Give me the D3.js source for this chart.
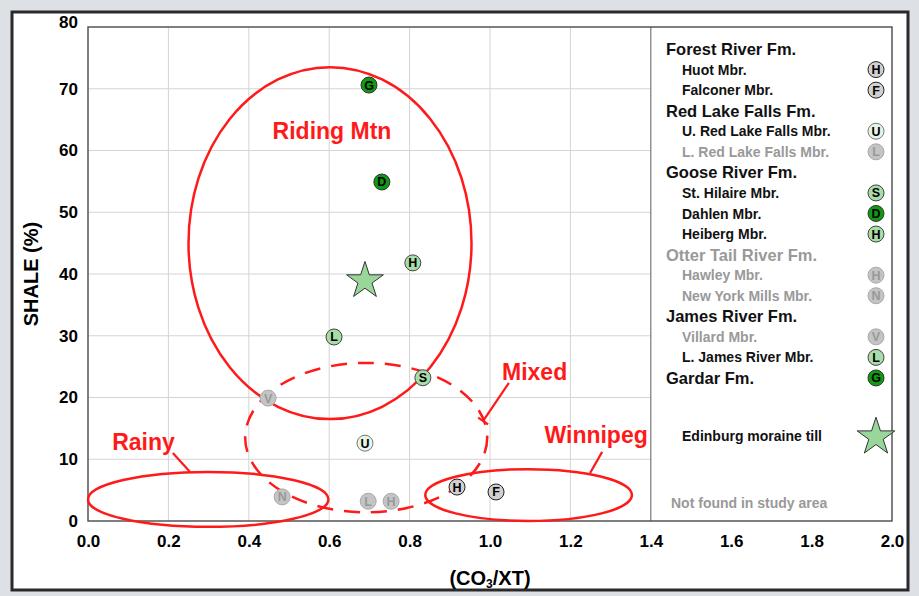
<!DOCTYPE html>
<html>
<head>
<meta charset="utf-8">
<script src="https://cdn.jsdelivr.net/npm/d3@7"></script>
<style>
  body { margin: 0; background: #dde1e6; }
  svg { display: block; font-family: "Liberation Sans", Arial, sans-serif; }
</style>
</head>
<body>
<svg id="chart" width="919" height="596"></svg>
<script>
// ---- data ----
var xTicks = [0, 0.2, 0.4, 0.6, 0.8, 1.0, 1.2, 1.4, 1.6, 1.8, 2.0];
var yTicks = [0, 10, 20, 30, 40, 50, 60, 70, 80];

// samples: member code, member name, CO3/XT, shale %
var sampleCodes = ['H', 'F', 'U', 'L', 'S', 'D', 'H', 'H', 'N', 'V', 'L', 'G'];
var sampleMembers = ['Huot', 'Falconer', 'U. Red Lake Falls', 'L. Red Lake Falls', 'St. Hilaire', 'Dahlen',
  'Heiberg', 'Hawley', 'New York Mills', 'Villard', 'L. James River', 'Gardar'];
var sampleX = [0.918, 1.015, 0.689, 0.697, 0.833, 0.731, 0.808, 0.754, 0.483, 0.448, 0.612, 0.699];
var sampleY = [5.5, 4.7, 12.6, 3.2, 23.2, 54.9, 41.8, 3.2, 3.9, 19.9, 29.8, 70.6];

// Edinburg moraine till
var tillX = [0.689];
var tillY = [38.9];

// provenance zones (ellipses in data units)
var zoneNames = ['Riding Mtn', 'Mixed', 'Rainy', 'Winnipeg'];
var zoneCx = [0.602, 0.692, 0.299, 1.096];
var zoneCy = [45.0, 13.5, 3.5, 4.2];
var zoneRx = [0.352, 0.301, 0.299, 0.257];
var zoneRy = [28.5, 12.1, 4.45, 4.2];
var zoneDashed = [false, true, false, false];

// zone label anchors and leader lines (data units)
var labelX = [0.607, 1.111, 0.138, 1.264];
var labelY = [63.2, 24.1, 12.8, 13.9];
var leaderFrom = [null, [1.047, 22.35], [0.211, 11.0], [1.279, 11.2]];
var leaderTo = [null, [0.983, 16.2], [0.254, 7.94], [1.249, 7.77]];

// legend rows
var legendNames = ['Forest River Fm.', 'Huot Mbr.', 'Falconer Mbr.', 'Red Lake Falls Fm.', 'U. Red Lake Falls Mbr.',
  'L. Red Lake Falls Mbr.', 'Goose River Fm.', 'St. Hilaire Mbr.', 'Dahlen Mbr.', 'Heiberg Mbr.',
  'Otter Tail River Fm.', 'Hawley Mbr.', 'New York Mills Mbr.', 'James River Fm.', 'Villard Mbr.',
  'L. James River Mbr.', 'Gardar Fm.'];
var legendCodes = ['', 'H', 'F', '', 'U', 'L', '', 'S', 'D', 'H', '', 'H', 'N', '', 'V', 'L', 'G'];
var legendStyleKeys = ['', 'Huot', 'Falconer', '', 'U. Red Lake Falls', 'L. Red Lake Falls', '', 'St. Hilaire',
  'Dahlen', 'Heiberg', '', 'Hawley', 'New York Mills', '', 'Villard', 'L. James River', 'Gardar'];
var legendAbsent = [false, false, false, false, false, true, false, false, false, false, true, true, true,
  false, true, false, false];

// ---- styles ----
var styles = {
  'Huot': { fill: '#d0d0d0', stroke: '#222', text: '#000' },
  'Falconer': { fill: '#d0d0d0', stroke: '#222', text: '#000' },
  'U. Red Lake Falls': { fill: '#e6f6e6', stroke: '#777', text: '#000' },
  'L. Red Lake Falls': { fill: '#c4c4c4', stroke: '#aaa', text: '#999' },
  'St. Hilaire': { fill: '#a8dca8', stroke: '#444', text: '#000' },
  'Dahlen': { fill: '#119911', stroke: '#333', text: '#000' },
  'Heiberg': { fill: '#a8dca8', stroke: '#444', text: '#000' },
  'Hawley': { fill: '#c4c4c4', stroke: '#aaa', text: '#999' },
  'New York Mills': { fill: '#c4c4c4', stroke: '#aaa', text: '#999' },
  'Villard': { fill: '#c4c4c4', stroke: '#aaa', text: '#999' },
  'L. James River': { fill: '#a8dca8', stroke: '#444', text: '#000' },
  'Gardar': { fill: '#119911', stroke: '#333', text: '#000' }
};
var RED = '#ff1a1a';

var svg = d3.select('#chart');

// outer frame
svg.append('rect').attr('x', 12).attr('y', 12).attr('width', 896).attr('height', 578)
  .attr('fill', '#fff').attr('stroke', '#2a2a2a').attr('stroke-width', 3);

var x = d3.scaleLinear().domain([0, 2]).range([88, 892]);
var y = d3.scaleLinear().domain([0, 80]).range([521, 27]);

// grid (data part only, up to 1.4)
var g = svg.append('g');
g.selectAll('.vgrid').data(xTicks.filter(function(d) { return d > 0 && d < 1.4; })).enter().append('line')
  .attr('x1', function(d) { return x(d); }).attr('x2', function(d) { return x(d); })
  .attr('y1', y(80)).attr('y2', y(0)).attr('stroke', '#d4d4d4').attr('stroke-width', 1);
g.selectAll('.hgrid').data(yTicks.filter(function(d) { return d > 0 && d < 80; })).enter().append('line')
  .attr('x1', x(0)).attr('x2', x(1.4))
  .attr('y1', function(d) { return y(d); }).attr('y2', function(d) { return y(d); })
  .attr('stroke', '#d4d4d4').attr('stroke-width', 1);

// legend divider + plot border
g.append('line').attr('x1', x(1.4)).attr('x2', x(1.4)).attr('y1', y(80)).attr('y2', y(0))
  .attr('stroke', '#777').attr('stroke-width', 1.2);
g.append('rect').attr('x', x(0)).attr('y', y(80)).attr('width', x(2) - x(0)).attr('height', y(0) - y(80))
  .attr('fill', 'none').attr('stroke', '#555').attr('stroke-width', 1.5);

// axes
var xAxis = svg.append('g').attr('transform', 'translate(0,' + y(0) + ')')
  .call(d3.axisBottom(x).tickValues(xTicks).tickSize(0).tickPadding(14).tickFormat(d3.format('.1f')));
xAxis.select('.domain').remove();
xAxis.selectAll('text').attr('font-size', '17px').attr('font-weight', 'bold').attr('fill', '#000')
  .attr('font-family', '"Liberation Sans", Arial, sans-serif');

var yAxis = svg.append('g').attr('transform', 'translate(' + (x(0) - 10) + ',0)')
  .call(d3.axisLeft(y).tickValues(yTicks).tickSize(0).tickPadding(0));
yAxis.select('.domain').remove();
yAxis.selectAll('text').attr('font-size', '17px').attr('font-weight', 'bold').attr('fill', '#000')
  .attr('font-family', '"Liberation Sans", Arial, sans-serif')
  .attr('dy', function(d) { return d === 80 ? '0.05em' : '0.32em'; });

svg.append('text').attr('transform', 'translate(38,' + (y(40)) + ') rotate(-90)')
  .attr('text-anchor', 'middle').attr('font-size', '20px').attr('font-weight', 'bold').text('SHALE (%)');

var xt = svg.append('text').attr('x', (x(0) + x(2)) / 2).attr('y', 585)
  .attr('text-anchor', 'middle').attr('font-size', '20px').attr('font-weight', 'bold');
xt.append('tspan').text('(CO');
xt.append('tspan').attr('font-size', '12px').attr('dy', 3).text('3');
xt.append('tspan').attr('dy', -3).text('/XT)');

// zones
var ell = svg.append('g');
zoneNames.forEach(function(name, i) {
  ell.append('ellipse')
    .attr('cx', x(zoneCx[i])).attr('cy', y(zoneCy[i]))
    .attr('rx', x(zoneRx[i]) - x(0)).attr('ry', y(0) - y(zoneRy[i]))
    .attr('fill', 'none').attr('stroke', RED).attr('stroke-width', 2.5)
    .attr('stroke-dasharray', zoneDashed[i] ? '16,11' : null);
});

// zone labels and leader lines
zoneNames.forEach(function(name, i) {
  svg.append('text').attr('x', x(labelX[i])).attr('y', y(labelY[i])).attr('dy', '0.36em')
    .attr('text-anchor', 'middle').attr('fill', RED).attr('font-size', '23px')
    .attr('font-weight', 'bold').text(name);
  if (leaderFrom[i]) {
    var x1 = x(leaderFrom[i][0]), y1 = y(leaderFrom[i][1]);
    var x2 = x(leaderTo[i][0]), y2 = y(leaderTo[i][1]);
    svg.append('line').attr('x1', x1).attr('y1', y1).attr('x2', x2).attr('y2', y2)
      .attr('stroke', RED).attr('stroke-width', 2.2);
    if (zoneDashed[i]) {
      // short cross bar where the leader meets the dashed outline
      var dx = x2 - x1, dy = y2 - y1, len = Math.sqrt(dx * dx + dy * dy);
      var px = -dy / len * 6, py = dx / len * 6;
      svg.append('line').attr('x1', x2 - px).attr('y1', y2 - py).attr('x2', x2 + px).attr('y2', y2 + py)
        .attr('stroke', RED).attr('stroke-width', 2.2);
    }
  }
});

// marker helper
function drawMarker(parent, cx, cy, code, st, r) {
  parent.append('circle').attr('cx', cx).attr('cy', cy).attr('r', r)
    .attr('fill', st.fill).attr('stroke', st.stroke).attr('stroke-width', 1);
  parent.append('text').attr('x', cx).attr('y', cy).attr('dy', '0.36em').attr('text-anchor', 'middle')
    .attr('font-size', '12.5px').attr('font-weight', 'bold').attr('fill', st.text).text(code);
}
var star = d3.symbol().type(d3.symbolStar);

// samples
var pts = svg.append('g');
sampleCodes.forEach(function(code, i) {
  drawMarker(pts, x(sampleX[i]), y(sampleY[i]), code, styles[sampleMembers[i]], 8);
});
tillX.forEach(function(v, i) {
  pts.append('path').attr('d', star.size(420)())
    .attr('transform', 'translate(' + x(v) + ',' + y(tillY[i]) + ')')
    .attr('fill', '#99d699').attr('stroke', '#333').attr('stroke-width', 1);
});

// legend
var lg = svg.append('g');
var rowY0 = 49, rowStep = 20.56;
legendNames.forEach(function(name, i) {
  var isFm = legendCodes[i] === '' || name.indexOf('Fm.') >= 0;
  var ry = rowY0 + i * rowStep;
  lg.append('text').attr('x', isFm ? 666 : 682).attr('y', ry).attr('dy', '0.36em')
    .attr('font-size', isFm ? '16.5px' : '14px').attr('font-weight', 'bold')
    .attr('fill', legendAbsent[i] ? '#999' : '#111').text(name);
  if (legendCodes[i]) {
    drawMarker(lg, 876, ry, legendCodes[i], styles[legendStyleKeys[i]], 8);
  }
});
lg.append('text').attr('x', 682).attr('y', 436).attr('dy', '0.36em').attr('font-size', '14px')
  .attr('font-weight', 'bold').attr('fill', '#111').text('Edinburg moraine till');
lg.append('path').attr('d', star.size(440)()).attr('transform', 'translate(876,437)')
  .attr('fill', '#99d699').attr('stroke', '#333').attr('stroke-width', 1);
lg.append('text').attr('x', 671).attr('y', 503).attr('dy', '0.36em').attr('font-size', '14px')
  .attr('font-weight', 'bold').attr('fill', '#999').text('Not found in study area');
</script>
</body>
</html>
